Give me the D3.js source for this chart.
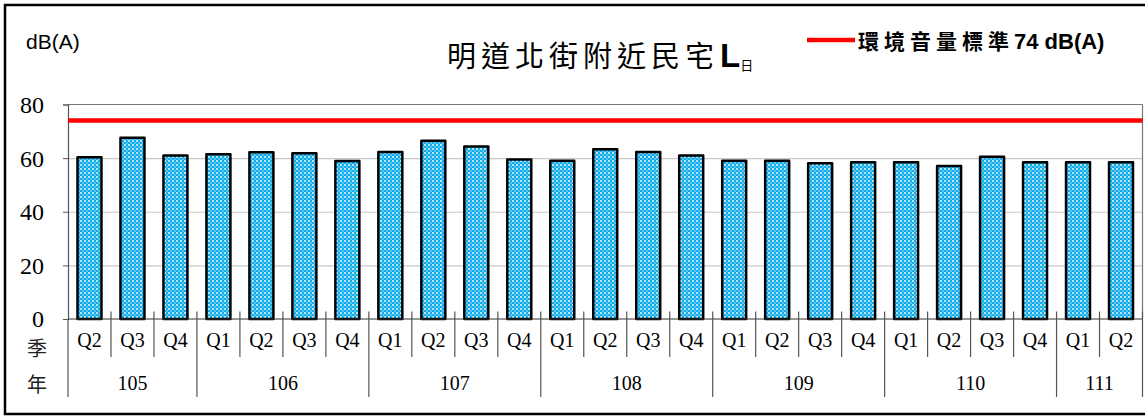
<!DOCTYPE html>
<html><head><meta charset="utf-8">
<script src="https://cdn.jsdelivr.net/npm/d3@7/dist/d3.min.js"></script>
<style>body{margin:0;background:#fff}</style>
</head><body><svg id="c" width="1145" height="417"></svg>
<script>
const years = ["105","106","107","108","109","110","111"];
const quarters = [
  ["Q2","Q3","Q4"],
  ["Q1","Q2","Q3","Q4"],
  ["Q1","Q2","Q3","Q4"],
  ["Q1","Q2","Q3","Q4"],
  ["Q1","Q2","Q3","Q4"],
  ["Q1","Q2","Q3","Q4"],
  ["Q1","Q2"]
];
const values = [60.3, 67.6, 61.0, 61.4, 62.2, 61.8, 58.9, 62.3, 66.5, 64.3, 59.5, 59.0, 63.3, 62.3, 61.0, 59.0, 59.0, 58.1, 58.5, 58.5, 57.1, 60.5, 58.5, 58.5, 58.5];
const standard = 74;
const yTicks = [0, 20, 40, 60, 80];
const titleText = "明道北街附近民宅";
const legendText = "環境音量標準";
const legendValue = "74 dB(A)";
const unitText = "dB(A)";

const cats = [];
years.forEach((yr, i) => quarters[i].forEach(q => cats.push({year: yr, q: q, key: yr + "-" + q})));
cats.forEach((c, i) => c.value = values[i]);

const svg = d3.select("#c");
const L = 68, R = 1142.5, T = 104.5, B = 319;
const serif = "'Liberation Serif','Times New Roman',serif";
const sans = "'Liberation Sans',Arial,sans-serif";
const cjk = "'Noto Sans CJK TC','Noto Sans CJK SC',sans-serif";

const x = d3.scaleBand().domain(cats.map(c => c.key)).range([L, R]).paddingInner(0.442).paddingOuter(0.221);
const y = d3.scaleLinear().domain([0, 80]).range([B, T]);
const step = x.step();

// white dot overlay pattern
const defs = svg.append("defs");
const pat = defs.append("pattern").attr("id", "dots").attr("patternUnits", "userSpaceOnUse")
  .attr("width", 4).attr("height", 4);
pat.append("circle").attr("cx", 1).attr("cy", 1).attr("r", 0.95).attr("fill", "#ffffff");
pat.append("circle").attr("cx", 3).attr("cy", 3).attr("r", 0.75).attr("fill", "#ffffff").attr("fill-opacity", 0.75);

// outer border
svg.append("rect").attr("x", 5).attr("y", 5).attr("width", 1150).attr("height", 409)
  .attr("fill", "none").attr("stroke", "#000").attr("stroke-width", 2.5);

// gridlines
const grid = svg.append("g").attr("transform", `translate(${L},0)`)
  .call(d3.axisLeft(y).tickValues(yTicks.filter(v => v > 0 && v < 80)).tickSize(-(R - L)).tickFormat(""));
grid.select(".domain").remove();
grid.selectAll("line").attr("stroke", "#c8c8c8").attr("stroke-width", 1.2);

// plot top/right border
svg.append("line").attr("x1", L).attr("x2", R).attr("y1", y(80)).attr("y2", y(80)).attr("stroke", "#777").attr("stroke-width", 1.2);
svg.append("line").attr("x1", R).attr("x2", R).attr("y1", y(80)).attr("y2", B).attr("stroke", "#777").attr("stroke-width", 1.2);

// y axis
const ya = svg.append("g").attr("transform", `translate(${L},0)`)
  .call(d3.axisLeft(y).tickValues(yTicks).tickSize(5).tickPadding(19));
ya.attr("font-family", serif).attr("font-size", 24);
ya.select(".domain").attr("stroke", "#555").attr("stroke-width", 1.2);
ya.selectAll("line").attr("stroke", "#555");
ya.selectAll("text").style("font-family", serif).style("font-size", "24px").attr("fill", "#000").attr("dy", "0.33em");

// left axis extension down
svg.append("line").attr("x1", L).attr("x2", L).attr("y1", B).attr("y2", 397).attr("stroke", "#555").attr("stroke-width", 1.2);

// bars: blue base + white dot overlay + outline
const bars = svg.append("g").selectAll("g").data(cats).join("g");
bars.append("rect")
  .attr("x", d => x(d.key)).attr("width", x.bandwidth())
  .attr("y", d => y(d.value)).attr("height", d => y(0) - y(d.value))
  .attr("fill", "#10ABEB");
bars.append("rect")
  .attr("x", d => x(d.key)).attr("width", x.bandwidth())
  .attr("y", d => y(d.value)).attr("height", d => y(0) - y(d.value))
  .attr("fill", "url(#dots)");
bars.append("rect")
  .attr("x", d => x(d.key)).attr("width", x.bandwidth())
  .attr("y", d => y(d.value)).attr("height", d => y(0) - y(d.value))
  .attr("fill", "none").attr("stroke", "#000").attr("stroke-width", 2.5).attr("stroke-linejoin", "round");

// x baseline
svg.append("line").attr("x1", L).attr("x2", R).attr("y1", B).attr("y2", B).attr("stroke", "#333").attr("stroke-width", 1.2);

// dividers
cats.forEach((c, i) => {
  const bx = x(c.key) + x.bandwidth() / 2 + step / 2;
  const last = i === cats.length - 1;
  const yearEnd = last || cats[i + 1].year !== c.year;
  svg.append("line").attr("x1", bx).attr("x2", bx).attr("y1", 311.5).attr("y2", yearEnd ? 397 : 357)
    .attr("stroke", "#555").attr("stroke-width", 1.2);
});

// quarter labels
svg.append("g").selectAll("text").data(cats).join("text")
  .attr("x", d => x(d.key) + x.bandwidth() / 2).attr("y", 347)
  .attr("text-anchor", "middle").attr("font-family", serif).attr("font-size", 20).text(d => d.q);

// year labels
years.forEach((yr, i) => {
  const ks = quarters[i].map(q => yr + "-" + q);
  const cx = (x(ks[0]) + x(ks[ks.length - 1]) + x.bandwidth()) / 2;
  svg.append("text").attr("x", cx).attr("y", 390).attr("text-anchor", "middle")
    .attr("font-family", serif).attr("font-size", 20).text(yr);
});

// axis row labels
svg.append("text").attr("x", 37).attr("y", 356).attr("text-anchor", "middle").attr("font-family", cjk).attr("font-size", 20).attr("fill", "#222").text("季");
svg.append("text").attr("x", 37).attr("y", 392).attr("text-anchor", "middle").attr("font-family", cjk).attr("font-size", 20).attr("fill", "#222").text("年");

// standard line
svg.append("line").attr("x1", L).attr("x2", R).attr("y1", y(standard)).attr("y2", y(standard))
  .attr("stroke", "#ff0000").attr("stroke-width", 4.5);

// unit
svg.append("text").attr("x", 26).attr("y", 49).attr("font-family", sans).attr("font-size", 21).text(unitText);

// title
const tt = svg.append("text").attr("x", 447).attr("y", 67).attr("font-family", cjk).attr("font-size", 29);
tt.append("tspan").attr("letter-spacing", 5).text(titleText);
tt.append("tspan").attr("font-family", sans).attr("font-weight", "bold").attr("font-size", 33).attr("dx", 1).text("L");
tt.append("tspan").attr("font-family", cjk).attr("font-size", 13).attr("dy", 3).text("日");

// legend
svg.append("line").attr("x1", 807).attr("x2", 855).attr("y1", 40).attr("y2", 40).attr("stroke", "#ff0000").attr("stroke-width", 4.5);
const lt = svg.append("text").attr("x", 858).attr("y", 49).attr("font-weight", "bold");
lt.append("tspan").attr("font-family", cjk).attr("font-size", 21).attr("letter-spacing", 5).text(legendText);
lt.append("tspan").attr("font-family", sans).attr("font-size", 22).attr("dx", 0).text(legendValue);
</script></body></html>
